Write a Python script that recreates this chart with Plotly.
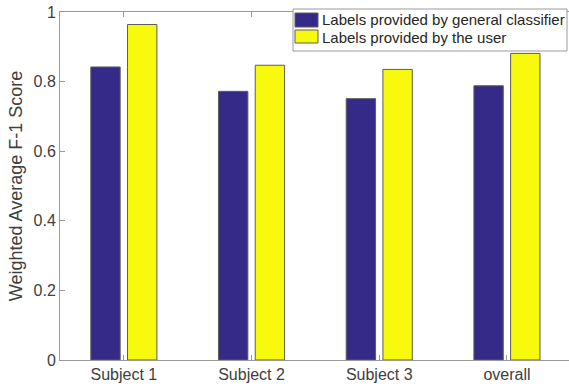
import plotly.graph_objects as go

# Weighted average F-1 scores per subject
categories = ["Subject 1", "Subject 2", "Subject 3", "overall"]
general_classifier = [0.842, 0.772, 0.751, 0.788]
user_labels = [0.964, 0.847, 0.835, 0.881]
series_names = ["Labels provided by general classifier", "Labels provided by the user"]
y_ticks = [0, 0.2, 0.4, 0.6, 0.8, 1]

BLUE = "#352A87"
YELLOW = "#F8FA0D"
EDGE = "#5c5c5c"
AXIS = "#9a9a9a"
TEXT = "#404040"
FONT = "Liberation Sans, Arial, sans-serif"

W, H = 569, 388
M_L, M_R, M_T, M_B = 60, 0, 12, 28
PLOT_W = W - M_L - M_R
PLOT_H = H - M_T - M_B


def px_x(p):
    """Pixel column -> paper x."""
    return (p - M_L) / PLOT_W


def px_y(p):
    """Pixel row -> paper y."""
    return (H - M_B - p) / PLOT_H


colors = [BLUE, YELLOW]
series_values = [general_classifier, user_labels]

fig = go.Figure()
for name, vals, col in zip(series_names, series_values, colors):
    fig.add_trace(go.Bar(
        x=categories, y=vals, name=name, showlegend=False,
        marker=dict(color=col, line=dict(color=EDGE, width=1)),
    ))

# Boxed legend drawn in the upper-right corner
shapes = [dict(
    type="rect", xref="paper", yref="paper",
    x0=px_x(293), x1=px_x(567), y0=px_y(51), y1=px_y(9),
    fillcolor="white", line=dict(color=AXIS, width=1), layer="above",
)]
annotations = []
rows = [(13, 27, 20), (30, 43, 37)]
for (top, bot, mid), name, col in zip(rows, series_names, colors):
    shapes.append(dict(
        type="rect", xref="paper", yref="paper",
        x0=px_x(295), x1=px_x(318), y0=px_y(bot), y1=px_y(top),
        fillcolor=col, line=dict(color=EDGE, width=1), layer="above",
    ))
    annotations.append(dict(
        text=name, xref="paper", yref="paper",
        x=px_x(320), y=px_y(mid), xanchor="left", yanchor="middle",
        showarrow=False, font=dict(size=15, color="#262626", family=FONT),
    ))

fig.update_layout(
    width=W, height=H,
    margin=dict(l=M_L, r=M_R, t=M_T, b=M_B),
    paper_bgcolor="white", plot_bgcolor="white",
    barmode="group", bargap=0.425, bargroupgap=0.2,
    font=dict(family=FONT, size=16, color=TEXT),
    shapes=shapes, annotations=annotations,
)
fig.update_xaxes(
    type="category", range=[-0.5, 3.486],
    showline=True, linecolor=AXIS, linewidth=1, mirror="ticks",
    ticks="inside", ticklen=5, tickcolor=AXIS,
    showgrid=False, zeroline=False,
    tickfont=dict(size=16, color=TEXT),
)
fig.update_yaxes(
    range=[0, 1], tickvals=y_ticks,
    showline=True, linecolor=AXIS, linewidth=1,
    ticks="inside", ticklen=5, tickcolor=AXIS,
    showgrid=False, zeroline=False,
    tickfont=dict(size=16, color=TEXT),
    title=dict(text="Weighted Average F-1 Score", font=dict(size=18, color=TEXT), standoff=6),
)

fig.write_html("out.html")
